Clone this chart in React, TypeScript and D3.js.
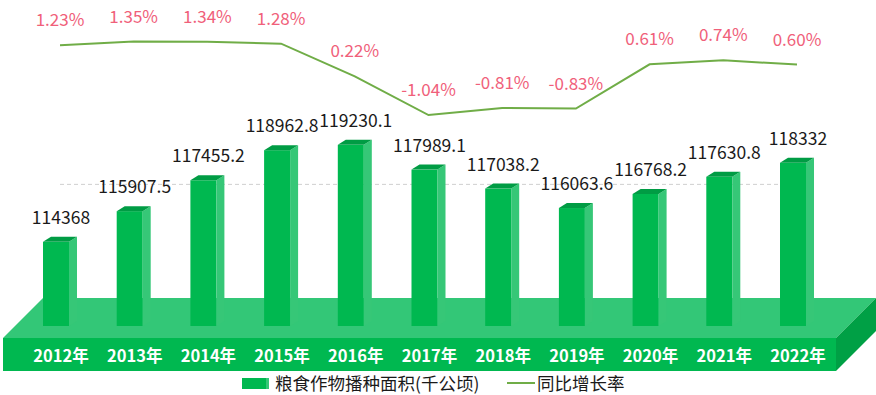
import React, { useRef, useEffect } from 'react';
import * as d3 from 'd3';

const years = ['2012年', '2013年', '2014年', '2015年', '2016年', '2017年', '2018年', '2019年', '2020年', '2021年', '2022年'];
const areaValues = [114368, 115907.5, 117455.2, 118962.8, 119230.1, 117989.1, 117038.2, 116063.6, 116768.2, 117630.8, 118332];
const areaLabels = ['114368', '115907.5', '117455.2', '118962.8', '119230.1', '117989.1', '117038.2', '116063.6', '116768.2', '117630.8', '118332'];
const growthRates = [1.23, 1.35, 1.34, 1.28, 0.22, -1.04, -0.81, -0.83, 0.61, 0.74, 0.60];
const gridTicks = [117250];

const W = 876;
const H = 395;
const FONT = '"Noto Sans CJK SC", "Noto Sans", sans-serif';

const App = () => {
  const svgRef = useRef<SVGSVGElement | null>(null);

  useEffect(() => {
    document.body.style.margin = '0';
    const svg = d3.select(svgRef.current);
    svg.selectAll('*').remove();

    const x = d3.scalePoint<string>().domain(years).range([60, 797]);
    const y = d3.scaleLinear().domain([110000, 120000]).range([329, 129.5]);
    const yRate = d3.scaleLinear().domain([-1.5, 1.5]).range([129.2, 36.9]);

    const barBottom = 326;
    const frontW = 26;
    const sideW = 8;
    const capH = 5;
    const half = (frontW + sideW) / 2;

    // platform
    const pTop = 298, pMid = 338, pBot = 371, pLeft = 3, pRight = 836, depth = 40;
    const plat = svg.append('g');
    plat.append('path')
      .attr('d', `M${pLeft},${pMid} L${pLeft + depth},${pTop} L${pRight + depth},${pTop} L${pRight},${pMid} Z`)
      .attr('fill', '#33c777');
    plat.append('path')
      .attr('d', `M${pRight},${pMid} L${pRight + depth},${pTop} L${pRight + depth},${pBot - depth} L${pRight},${pBot} Z`)
      .attr('fill', '#00a045');
    plat.append('rect')
      .attr('x', pLeft).attr('y', pMid)
      .attr('width', pRight - pLeft).attr('height', pBot - pMid)
      .attr('fill', '#00b850');

    // grid line
    svg.append('g').selectAll('line')
      .data(gridTicks)
      .enter().append('line')
      .attr('x1', 60).attr('x2', 797)
      .attr('y1', d => y(d)).attr('y2', d => y(d))
      .attr('stroke', '#cfcfcf')
      .attr('stroke-width', 1)
      .attr('stroke-dasharray', '4,3');

    // bars
    const bars = svg.append('g').selectAll('g')
      .data(areaValues)
      .enter().append('g');

    bars.append('rect')
      .attr('x', (d, i) => x(years[i])! - half)
      .attr('y', d => y(d))
      .attr('width', frontW)
      .attr('height', d => barBottom - y(d))
      .attr('fill', '#00b850');

    bars.append('path')
      .attr('d', (d, i) => {
        const l = x(years[i])! - half + frontW;
        const t = y(d);
        return `M${l},${t} L${l + sideW},${t - capH} L${l + sideW},${barBottom - capH} L${l},${barBottom} Z`;
      })
      .attr('fill', '#36c777');

    bars.append('path')
      .attr('d', (d, i) => {
        const l = x(years[i])! - half;
        const t = y(d);
        return `M${l},${t} L${l + sideW},${t - capH} L${l + frontW + sideW},${t - capH} L${l + frontW},${t} Z`;
      })
      .attr('fill', '#009c44');

    bars.append('text')
      .attr('x', (d, i) => x(years[i])! + 1)
      .attr('y', d => y(d) - 18)
      .attr('text-anchor', 'middle')
      .style('font-family', FONT)
      .style('font-size', '17.5px')
      .style('fill', '#1a1a1a')
      .text((d, i) => areaLabels[i]);

    // x labels
    svg.append('g').selectAll('text')
      .data(years)
      .enter().append('text')
      .attr('x', d => x(d)! + 1)
      .attr('y', 362)
      .attr('text-anchor', 'middle')
      .style('font-family', FONT)
      .style('font-size', '16.5px')
      .style('font-weight', 'bold')
      .style('fill', '#ffffff')
      .text(d => d);

    // growth line
    const line = d3.line<number>()
      .x((d, i) => x(years[i])!)
      .y(d => yRate(d));

    svg.append('path')
      .datum(growthRates)
      .attr('d', line)
      .attr('fill', 'none')
      .attr('stroke', '#70ad47')
      .attr('stroke-width', 2);

    svg.append('g').selectAll('text')
      .data(growthRates)
      .enter().append('text')
      .attr('x', (d, i) => x(years[i])!)
      .attr('y', d => yRate(d) - 19)
      .attr('text-anchor', 'middle')
      .style('font-family', FONT)
      .style('font-size', '17px')
      .style('fill', '#f0607a')
      .text(d => `${d.toFixed(2)}%`);

    // legend
    const lg = svg.append('g');
    lg.append('rect').attr('x', 242).attr('y', 378).attr('width', 24).attr('height', 11).attr('fill', '#00b850');
    lg.append('rect').attr('x', 266).attr('y', 378).attr('width', 3).attr('height', 11).attr('fill', '#36c777');
    lg.append('text')
      .attr('x', 275).attr('y', 390)
      .style('font-family', FONT).style('font-size', '17.5px').style('fill', '#1a1a1a')
      .text('粮食作物播种面积(千公顷)');
    lg.append('line')
      .attr('x1', 507).attr('x2', 535).attr('y1', 383).attr('y2', 383)
      .attr('stroke', '#70ad47').attr('stroke-width', 2);
    lg.append('text')
      .attr('x', 537).attr('y', 390)
      .style('font-family', FONT).style('font-size', '17.5px').style('fill', '#1a1a1a')
      .text('同比增长率');
  }, []);

  return <svg ref={svgRef} width={W} height={H} style={{ display: 'block', background: '#ffffff' }} />;
};

export default App;
